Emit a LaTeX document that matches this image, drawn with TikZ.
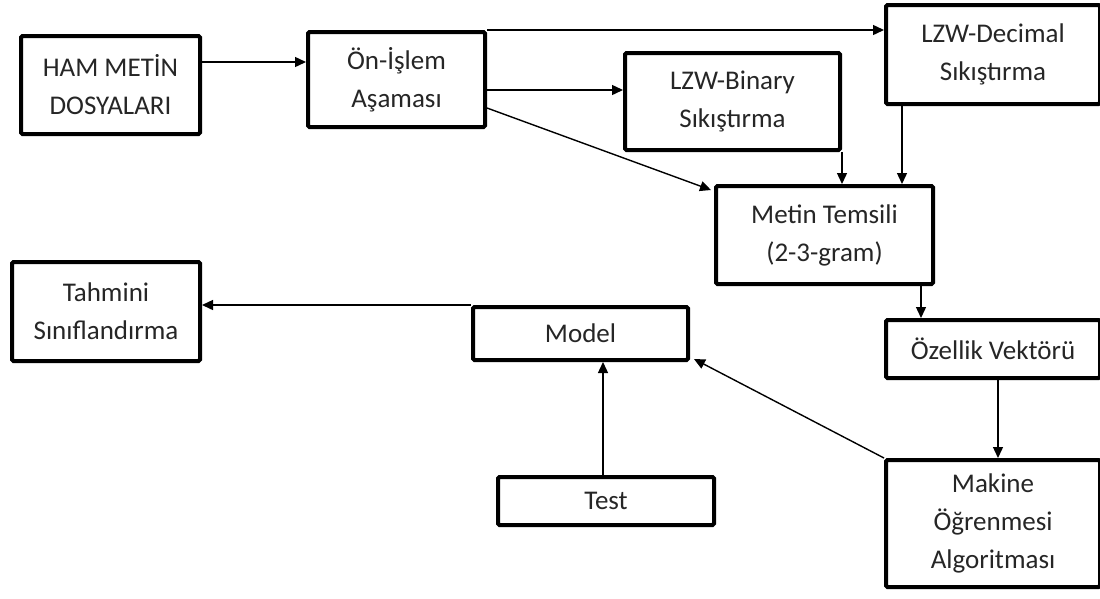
\documentclass[tikz,border=0pt]{standalone}
\usepackage{fontspec}
\setmainfont{Carlito}
\usetikzlibrary{arrows.meta}
\tikzset{
  box/.style={draw=black, line width=4pt, rounded corners=1.5pt, fill=white,
    align=center, inner sep=0pt, text=black!85,
    font=\fontsize{27}{38}\selectfont},
  arr/.style={draw=black, line width=1.4pt, -{Triangle[length=11pt,width=10pt]}},
  plain/.style={draw=black, line width=1.4pt}
}
\begin{document}
\begin{tikzpicture}[x=1pt,y=-1pt]
\useasboundingbox (0,0) rectangle (1100,598);

% process boxes
\node[box, minimum width=179pt, minimum height=98pt]  (ham) at (110.5,85)  {HAM METİN\\DOSYALARI};
\node[box, minimum width=177pt, minimum height=95pt]  (pre) at (396.5,79.5) {Ön-İşlem\\Aşaması};
\node[box, minimum width=215pt, minimum height=97pt]  (bin) at (732.5,101.5) {LZW-Binary\\Sıkıştırma};
\node[box, minimum width=214pt, minimum height=99pt]  (dec) at (993,54.5)  {LZW-Decimal\\Sıkıştırma};
\node[box, minimum width=217pt, minimum height=98pt]  (met) at (824.5,235)  {Metin Temsili\\(2-3-gram)};
\node[box, minimum width=214pt, minimum height=58pt]  (ozl) at (993,349)    {Özellik Vektörü};
\node[box, minimum width=214pt, minimum height=127pt] (mak) at (993,523.5)  {Makine\\Öğrenmesi\\Algoritması};
\node[box, minimum width=215pt, minimum height=53pt]  (mdl) at (580.5,333.5) {Model};
\node[box, minimum width=216pt, minimum height=48pt]  (tst) at (606,501)    {Test};
\node[box, minimum width=188pt, minimum height=99pt]  (tah) at (106,311.5)  {Tahmini\\Sınıflandırma};

% connectors
\draw[arr] (ham.east |- 0,62) -- (pre.west |- 0,62);
\draw[arr] (pre.north east) -- (dec.west |- pre.north east);
\draw[arr] (pre.east |- 0,90) -- (bin.west |- 0,90);
\draw[arr] (pre.east |- 0,108) -- ([xshift=-3pt,yshift=-6pt]met.north west);
\draw[arr] (bin.south east) -- (bin.south east |- met.north);
\draw[arr] (dec.south -| 902,0) -- (met.north -| 902,0);
\draw[arr] (met.south -| 921,0) -- (ozl.north -| 921,0);
\draw[arr] (ozl.south -| 998,0) -- (mak.north -| 998,0);
\draw[arr] (mak.north west) -- ([xshift=4pt,yshift=3pt]mdl.south east);
\draw[arr] (tst.north -| 603,0) -- (mdl.south -| 603,0);
\draw[arr] (mdl.north west) -- (tah.east |- 0,305);
\end{tikzpicture}
\end{document}
